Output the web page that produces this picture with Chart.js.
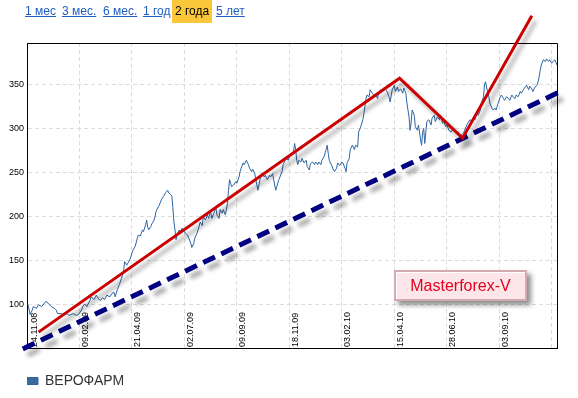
<!DOCTYPE html>
<html>
<head>
<meta charset="utf-8">
<script src="https://cdn.jsdelivr.net/npm/chart.js@4.4.1/dist/chart.umd.min.js"></script>
<style>
  html, body { margin: 0; padding: 0; background: #fff; }
  #wrap { position: relative; width: 578px; height: 398px; overflow: hidden; font-family: "Liberation Sans", Arial, sans-serif; }
  #chart { position: absolute; left: 0; top: 0; }
  .period { position: absolute; top: 0; height: 23px; line-height: 23px; font-size: 12px; color: #1f5fc4; text-decoration: underline; white-space: nowrap; }
  .period.active { background: #fbc73a; color: #000; text-decoration: none; padding: 0 3px; }
  #stamp { position: absolute; left: 394px; top: 270px; width: 133px; height: 31px; box-sizing: border-box;
           background: #fde6e9; border: 2px solid #d4aab1; box-shadow: inset 1px 1px 0 #fff, 4px 4px 5px rgba(0,0,0,0.45);
           color: #e3001f; font-size: 16px; line-height: 27px; text-align: center; }
</style>
</head>
<body>
<div id="wrap">
  <canvas id="chart" width="578" height="398"></canvas>
  <a class="period" style="left:25px">1 мес</a>
  <a class="period" style="left:62px">3 мес.</a>
  <a class="period" style="left:103px">6 мес.</a>
  <a class="period" style="left:143px">1 год</a>
  <span class="period active" style="left:172px">2 года</span>
  <a class="period" style="left:216px">5 лет</a>
  <div id="stamp">Masterforex-V</div>
</div>
<script>
// ---- данные (торговые дни от 24.11.08 и цена) ----
const tradingDay = [1,3,5,6,9,11,14,16,18,20,23,26,28,29,33,35,38,40,44,47,49,52,53,55,57,60,61,64,66,68,70,72,74,76,79,81,83,84,86,88,90,92,93,95,98,99,101,103,105,106,108,110,111,113,114,115,116,118,119,121,122,123,125,126,128,130,132,134,135,137,138,139,140,141,142,143,145,146,148,149,151,153,154,156,157,159,160,162,164,165,167,168,170,172,173,175,176,178,180,181,183,184,186,187,189,191,192,193,194,195,197,199,200,202,203,204,206,207,209,211,212,214,215,217,219,220,221,222,224,226,227,229,231,232,234,235,237,238,240,241,243,244,246,247,249,250,252,254,255,256,257,258,259,261,262,264,266,267,269,270,272,274,275,277,278,280,281,283,285,286,287,288,290,292,293,295,296,298,300,301,303,304,305,307,308,310,312,313,315,316,318,320,321,322,323,324,326,327,329,331,332,334,335,337,339,340,342,343,345,346,348,350,351,353,354,356,358,359,361,362,363,364,365,366,367,369,370,372,373,374,375,376,377,378,379,380,381,383,385,386,388,389,391,393,394,396,397,399,400,402,404,406,408,409,411,413,414,416,417,419,420,422,424,425,427,428,430,432,433,435,436,437,438,440,441,443,444,446,447,449,451,452,454,455,457,459,460,462,463,465,466,468,470,471,473,474,476,478,479,481,482,484,486,487,488,489,490,492,494,495,497,498,500,501,503,505];
const price = [100,89,94,98,96,100,98,101,104,102,98,96,94,90,90,88,90,88,90,88,89,94,98,101,98,105,109,106,111,107,105,108,106,111,109,113,114,109,117,123,130,138,149,145,151,155,162,166,175,179,178,185,183,191,196,188,185,189,192,196,200,206,211,213,219,223,227,230,227,225,223,210,194,185,174,179,185,183,187,185,181,179,176,170,165,170,176,181,189,194,190,200,196,202,198,206,198,204,210,202,198,208,204,208,202,215,230,242,238,234,236,240,238,245,251,255,261,259,264,259,255,251,254,249,236,230,236,242,249,245,247,242,247,245,249,242,230,234,242,245,251,259,264,266,264,268,272,274,283,276,264,259,264,262,266,261,264,257,253,260,262,259,262,259,262,259,264,268,276,281,272,264,259,253,251,255,261,258,262,261,255,251,261,266,276,281,276,281,279,296,302,310,317,325,334,338,336,344,340,337,339,334,340,344,342,346,344,342,336,330,344,349,342,347,342,345,340,346,340,329,321,313,298,306,321,315,302,298,304,296,287,281,296,300,283,296,308,310,304,312,315,308,313,310,315,306,308,302,304,298,296,300,296,295,296,291,293,295,298,304,306,310,308,312,310,317,315,321,329,336,351,353,346,336,329,323,321,323,321,329,336,338,334,332,336,334,332,338,336,334,338,336,342,340,344,346,349,344,348,345,342,347,349,353,359,366,372,378,376,379,376,378,374,376,378,372];

// ---- разметка аналитика (красная ломаная и синяя линия поддержки) ----
const redTrendDays = [11, 355, 415, 481];
const redTrendValues = [69, 357, 289, 428];
const supportDays = [-4, 511];
const supportValues = [50, 343.5];

// ---- оси ----
const xTickDays = [0, 50, 100, 150, 200, 250, 300, 350, 400, 450, 500];
const xTickLabels = ['24.11.08','09.02.09','21.04.09','02.07.09','09.09.09','18.11.09','03.02.10','15.04.10','28.06.10','03.09.10',''];
const yTicks = [100, 150, 200, 250, 300, 350];

const FONT = '"Liberation Sans", Arial, sans-serif';
const toPoints = (xs, ys) => xs.map((x, i) => ({ x, y: ys[i] }));

// рамка сверху и справа
const frame = {
  id: 'frame',
  beforeDatasetsDraw(chart){
    const { ctx, chartArea: a } = chart;
    ctx.save();
    ctx.strokeStyle = '#000';
    ctx.lineWidth = 1;
    ctx.beginPath();
    ctx.moveTo(a.left, Math.floor(a.top) + 0.5);
    ctx.lineTo(Math.floor(a.right) + 0.5, Math.floor(a.top) + 0.5);
    ctx.lineTo(Math.floor(a.right) + 0.5, a.bottom);
    ctx.stroke();
    ctx.restore();
  }
};

// подписи дат вертикально внутри графика
const dateLabels = {
  id: 'dateLabels',
  beforeDatasetsDraw(chart){
    const { ctx, chartArea: a, scales: { x } } = chart;
    ctx.save();
    ctx.fillStyle = '#000';
    ctx.font = '9px ' + FONT;
    ctx.textAlign = 'left';
    ctx.textBaseline = 'middle';
    xTickDays.forEach((d, i) => {
      if (!xTickLabels[i]) return;
      const px = Math.max(x.getPixelForValue(d) + 6, a.left + 8);
      ctx.save();
      ctx.translate(px, a.bottom - 1);
      ctx.rotate(-Math.PI / 2);
      ctx.fillText(xTickLabels[i], 0, 0);
      ctx.restore();
    });
    ctx.restore();
  }
};

// тени у нарисованных линий
const shadows = {
  id: 'shadows',
  beforeDatasetDraw(chart, args){
    const ds = chart.data.datasets[args.index];
    if (!ds.shadow) return;
    const ctx = chart.ctx;
    ctx.save();
    ctx.shadowColor = 'rgba(0,0,0,0.35)';
    ctx.shadowBlur = 4;
    ctx.shadowOffsetX = ds.shadow[0];
    ctx.shadowOffsetY = ds.shadow[1];
  },
  afterDatasetDraw(chart, args){
    if (chart.data.datasets[args.index].shadow) chart.ctx.restore();
  }
};

new Chart(document.getElementById('chart'), {
  type: 'line',
  data: {
    datasets: [
      {
        label: 'ВЕРОФАРМ',
        data: toPoints(tradingDay, price),
        borderColor: '#2d64a2',
        backgroundColor: '#3a6a9c',
        borderWidth: 1,
        pointRadius: 0,
        order: 3
      },
      {
        label: 'support',
        data: toPoints(supportDays, supportValues),
        borderColor: '#000080',
        borderWidth: 5,
        borderDash: [13, 7],
        pointRadius: 0,
        clip: false,
        shadow: [5, 6],
        order: 2
      },
      {
        label: 'trend',
        data: toPoints(redTrendDays, redTrendValues),
        borderColor: '#cc0000',
        borderWidth: 3,
        pointRadius: 0,
        clip: false,
        shadow: [4, 5],
        order: 1
      }
    ]
  },
  options: {
    responsive: false,
    animation: false,
    layout: { padding: { top: 43, right: 21, left: 0, bottom: 0 } },
    scales: {
      x: {
        type: 'linear',
        min: 0,
        max: 505,
        afterBuildTicks: s => { s.ticks = xTickDays.map(v => ({ value: v })); },
        afterFit: s => { s.height = 26; },
        ticks: { display: false },
        grid: { color: '#dcdcdc', drawTicks: false },
        border: { color: '#000', width: 1, dash: [4, 3] }
      },
      y: {
        min: 51,
        max: 397,
        afterBuildTicks: s => { s.ticks = yTicks.map(v => ({ value: v })); },
        afterFit: s => { s.width = 27; },
        ticks: { color: '#000', font: { size: 9, family: FONT }, padding: 3 },
        grid: { color: '#dcdcdc', drawTicks: false },
        border: { color: '#000', width: 1, dash: [4, 3] }
      }
    },
    plugins: {
      legend: {
        position: 'bottom',
        align: 'start',
        fullSize: false,
        labels: {
          boxWidth: 11,
          boxHeight: 7,
          padding: 0,
          color: '#333',
          font: { size: 14, family: FONT },
          filter: item => item.datasetIndex === 0
        }
      },
      tooltip: { enabled: false }
    }
  },
  plugins: [frame, dateLabels, shadows]
});
</script>
</body>
</html>
